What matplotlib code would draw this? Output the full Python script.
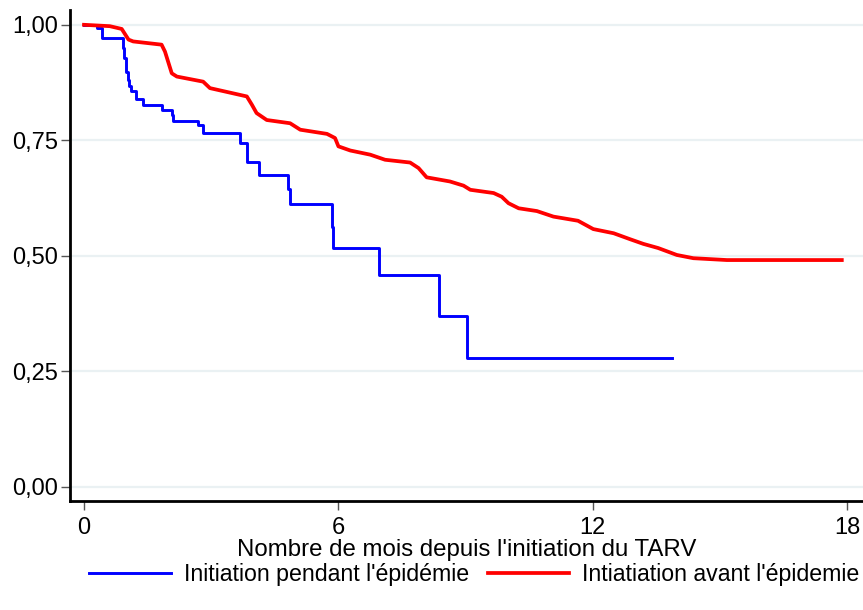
import matplotlib.pyplot as plt

# courbes de survie Kaplan-Meier
mois_pendant = [0, 0.30, 0.42, 0.93, 0.95, 0.98, 1.00, 1.03, 1.07, 1.12, 1.23, 1.38, 1.45,
                1.83, 2.07, 2.10, 2.70, 2.80, 3.68, 3.84, 4.13, 4.80, 4.86, 5.86, 5.88,
                6.95, 8.38, 9.04, 13.87]
surv_pendant = [1.0, 0.993, 0.971, 0.95, 0.929, 0.913, 0.897, 0.88, 0.868, 0.857, 0.84, 0.826,
                0.826, 0.816, 0.805, 0.791, 0.784, 0.765, 0.744, 0.703, 0.674, 0.645, 0.612,
                0.563, 0.517, 0.459, 0.369, 0.278, 0.278]

mois_avant = [0, 0.61, 0.89, 1.05, 1.16, 1.83, 1.91, 2.07, 2.19, 2.81, 2.97, 3.84, 3.96, 4.07,
              4.31, 4.86, 5.10, 5.73, 5.92, 6.00, 6.28, 6.75, 7.10, 7.69, 7.89, 8.08, 8.63,
              8.95, 9.11, 9.66, 9.85, 10.01, 10.25, 10.68, 11.07, 11.65, 12.01, 12.49, 12.88,
              13.19, 13.54, 13.98, 14.37, 15.16, 17.87]
surv_avant = [1.0, 0.997, 0.991, 0.968, 0.964, 0.957, 0.942, 0.895, 0.888, 0.877, 0.863, 0.845,
              0.827, 0.809, 0.794, 0.787, 0.773, 0.764, 0.755, 0.737, 0.728, 0.719, 0.708,
              0.702, 0.690, 0.670, 0.661, 0.652, 0.643, 0.636, 0.628, 0.614, 0.603, 0.597,
              0.585, 0.576, 0.558, 0.549, 0.536, 0.526, 0.517, 0.502, 0.495, 0.491, 0.491]

xticks = [0, 6, 12, 18]
yticks = [0, 0.25, 0.5, 0.75, 1.0]
ylabels = ["0,00", "0,25", "0,50", "0,75", "1,00"]

plt.rcParams['font.family'] = ['Liberation Sans', 'DejaVu Sans']

fig = plt.figure(figsize=(8.63, 6.1), dpi=100)
ax = fig.add_axes([0.0811, 0.1787, 0.9189, 0.8049])

ax.step(mois_pendant, surv_pendant, where="post", color="#0000ff", lw=2.1,
        label="Initiation pendant l'épidémie")
ax.plot(mois_avant, surv_avant, color="#ff0000", lw=2.7,
        label="Intiatiation avant l'épidemie")

ax.set_xlim(-0.33, 18.37)
ax.set_ylim(-0.0303, 1.032)
ax.set_xticks(xticks)
ax.set_yticks(yticks)
ax.set_yticklabels(ylabels)
ax.tick_params(axis="both", labelsize=17, length=6.5, width=1, color="#555555")
ax.tick_params(axis="y", pad=2)
ax.tick_params(axis="x", pad=5)

for y in yticks:
    ax.axhline(y, color="#eaf1f3", lw=1.6, zorder=0)

ax.spines["top"].set_visible(False)
ax.spines["right"].set_visible(False)
ax.spines["left"].set_linewidth(2)
ax.spines["bottom"].set_linewidth(2)

ax.set_xlabel("Nombre de mois depuis l'initiation du TARV", fontsize=17.3, labelpad=0)

fig.legend(loc="center", bbox_to_anchor=(0.5495, 1 - 575 / 610), ncol=2, frameon=False,
           fontsize=16.7, handlelength=3.5, handletextpad=0.56, columnspacing=0.82)

plt.savefig("out.png", dpi=100)
